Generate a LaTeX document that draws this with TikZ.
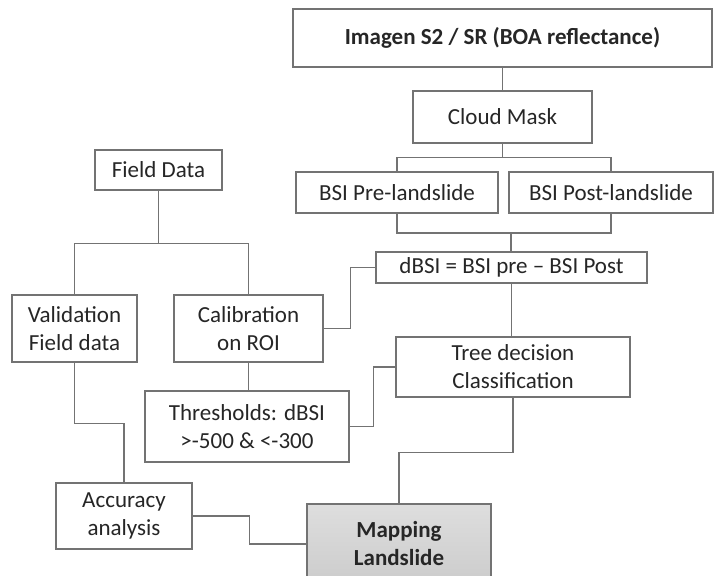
\documentclass[tikz,border=0pt]{standalone}
\usepackage{fontspec}
\setmainfont{Carlito}
\usetikzlibrary{positioning,calc}

\begin{document}
\begin{tikzpicture}[x=1pt,y=-1pt,
  box/.style={rectangle, draw=black!55, line width=1.1pt, fill=white, inner sep=0pt,
    align=center, text=black!85, font=\fontsize{23}{28}\selectfont},
  mapbox/.style={box, top color=black!13, bottom color=black!20},
  wire/.style={draw=black!55, line width=1.1pt}]
  \useasboundingbox (0,0) rectangle (724,576);
  % satellite chain
  \node [box, minimum width=419pt, minimum height=58pt, font=\fontsize{23}{28}\selectfont\bfseries] (img) at (502.5,38) {Imagen S2 / SR (BOA reflectance)};
  \node [box, minimum width=179pt, minimum height=52pt] (cloud) at (502.5,117) {Cloud Mask};
  \node [box, minimum width=202pt, minimum height=41pt] (pre) at (397,192.5) {BSI Pre-landslide};
  \node [box, minimum width=204pt, minimum height=41pt] (post) at (611,192.5) {BSI Post-landslide};
  \node [box, minimum width=271pt, minimum height=31pt] (dbsi) at (511.5,267.5) {dBSI = BSI pre -- BSI Post};
  \node [box, minimum width=234pt, minimum height=60pt] (tree) at (513,367) {Tree decision\\Classification};
  % field chain
  \node [box, minimum width=127pt, minimum height=40pt] (field) at (158.5,170) {Field Data};
  \node [box, minimum width=125pt, minimum height=67pt] (valid) at (74.5,328.5) {Validation\\Field data};
  \node [box, minimum width=149pt, minimum height=67pt] (calib) at (248.5,328.5) {Calibration\\on ROI};
  \node [box, minimum width=204pt, minimum height=71pt] (thresh) at (247,426.5) {Thresholds: dBSI\\>-500 \& <-300};
  \node [box, minimum width=136pt, minimum height=66pt] (acc) at (124,516) {Accuracy\\analysis};
  \node [mapbox, minimum width=184pt, minimum height=80pt, font=\fontsize{23}{28}\selectfont\bfseries] (map) at (399,544) {Mapping\\Landslide};

  \coordinate (join) at (511,233);
  \draw [wire] (img) -- (cloud);
  \draw [wire] (cloud.south) -- ++(0,14) -| (pre.north);
  \draw [wire] (cloud.south) -- ++(0,14) -| (post.north);
  \draw [wire] (pre.south) |- (join) -| (post.south);
  \draw [wire] (join) -- (join |- dbsi.north);
  \draw [wire] (dbsi.south) -- (dbsi.south |- tree.north);
  \draw [wire] (field.south) -- ++(0,53) -| (valid.north);
  \draw [wire] (field.south) -- ++(0,53) -| (calib.north);
  \draw [wire] (calib.east) -- ++(27,0) |- (dbsi.west);
  \draw [wire] (calib.south) -- (calib.south |- thresh.north);
  \draw [wire] (thresh.east) -- ++(24,0) |- (tree.west);
  \draw [wire] (valid.south) -- ++(0,61) -| (acc.north);
  \draw [wire] (acc.east) -- ++(57,0) |- (map.west);
  \draw [wire] (tree.south) -- ++(0,55) -| (map.north);
\end{tikzpicture}
\end{document}
